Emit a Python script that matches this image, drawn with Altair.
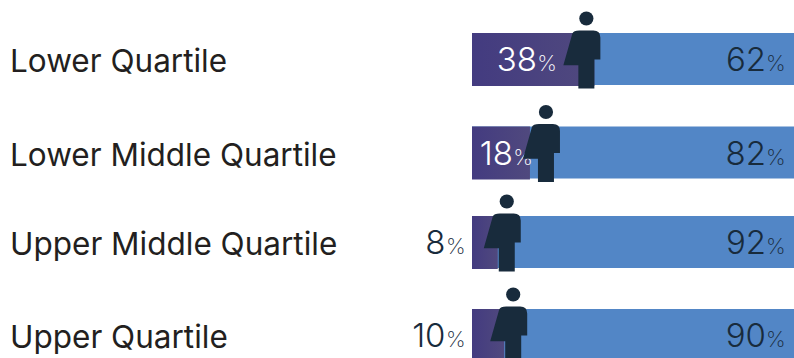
import altair as alt
import pandas as pd

quartiles = ["Lower Quartile", "Lower Middle Quartile", "Upper Middle Quartile", "Upper Quartile"]
women = [38, 18, 8, 10]
men = [62, 82, 92, 90]

# pixel tuning per row: figure and women's label relative to the end of the purple bar
figure_dx = [-8, 16, 9, 9]
label_inside = [True, True, False, False]
label_dx = [-37.5, 3, -6.5, -6.5]

INK = "#182b3c"
NAME_INK = "#231f20"
PURPLE = alt.Gradient(
    gradient="linear", x1=0, x2=1, y1=0, y2=0,
    stops=[alt.GradientStop(color="#433b80", offset=0), alt.GradientStop(color="#50497e", offset=1)],
)
BLUE = "#5286c6"
FONT = "Inter"

FIGURE_BODY = "M-7,12 L7,12 Q14,12 14,19 L14,41 L8,41 L8,70 L-8,70 L-8,46.7 L-23,46.7 L-14,15 Q-13,12 -7,12 Z"

df = pd.DataFrame({"quartile": quartiles, "women": women, "men": men,
                   "row": range(4), "start": 0, "full": 100})
df["women_text"] = df["women"].astype(str)
df["men_text"] = df["men"].astype(str)

x_scale = alt.Scale(domain=[0, 100], range=[472, 794])
y_scale = alt.Scale(domain=[0, 1, 2, 3], range=[59, 152.5, 242, 335], padding=0)
y = alt.Y("row:Q", scale=y_scale, axis=None)


def x_on(field):
    return alt.X(field, scale=x_scale, axis=None)


men_bars = alt.Chart(df).mark_bar(height=52, color=BLUE, orient="horizontal").encode(
    x=x_on("start:Q"), x2="full:Q", y=y)
women_bars = alt.Chart(df).mark_bar(height=53, yOffset=0.5, color=PURPLE, orient="horizontal").encode(
    x=x_on("start:Q"), x2="women:Q", y=y)

names = alt.Chart(df).mark_text(align="left", baseline="alphabetic", font=FONT, fontSize=31.5,
                                fontWeight=400, color=NAME_INK, dy=13).encode(
    x=alt.value(10), y=y, text="quartile:N")

men_numbers = alt.Chart(df).mark_text(align="right", baseline="alphabetic", font=FONT, fontSize=33,
                                      fontWeight=300, color=INK, dx=-28, dy=12).encode(
    x=x_on("full:Q"), y=y, text="men_text:N")
men_signs = alt.Chart(df).mark_text(align="right", baseline="alphabetic", font=FONT, fontSize=22,
                                    fontWeight=200, color=INK, dx=-8.5, dy=12).encode(
    x=x_on("full:Q"), y=y, text=alt.value("%"))

layers = [men_bars, women_bars, names, men_numbers, men_signs]

for i in range(4):
    row = df.iloc[[i]]
    colour = "white" if label_inside[i] else INK
    field = "women:Q" if label_inside[i] else "start:Q"
    layers.append(alt.Chart(row).mark_text(
        align="right", baseline="alphabetic", font=FONT, fontSize=33, fontWeight=300,
        color=colour, dx=label_dx[i] - 20, dy=12).encode(x=x_on(field), y=y, text="women_text:N"))
    layers.append(alt.Chart(row).mark_text(
        align="right", baseline="alphabetic", font=FONT, fontSize=22, fontWeight=200,
        color=colour, dx=label_dx[i], dy=12).encode(x=x_on(field), y=y, text=alt.value("%")))
    # each figure is one symbol for the body and one for the head, anchored at the bar's end
    layers.append(alt.Chart(row).mark_point(
        shape=FIGURE_BODY, size=4, filled=True, opacity=1, color=INK,
        xOffset=figure_dx[i], yOffset=-40.5, strokeWidth=0
    ).encode(x=x_on("women:Q"), y=y))
    layers.append(alt.Chart(row).mark_circle(
        size=201, opacity=1, color=INK, xOffset=figure_dx[i], yOffset=-40.5
    ).encode(x=x_on("women:Q"), y=y))

chart = alt.layer(*layers).properties(
    width=794, height=358, padding=0, autosize=alt.AutoSizeParams(type="none")
).configure_view(stroke=None, clip=False)

chart.save("out.html", embed_options={"renderer": "svg", "actions": False})
